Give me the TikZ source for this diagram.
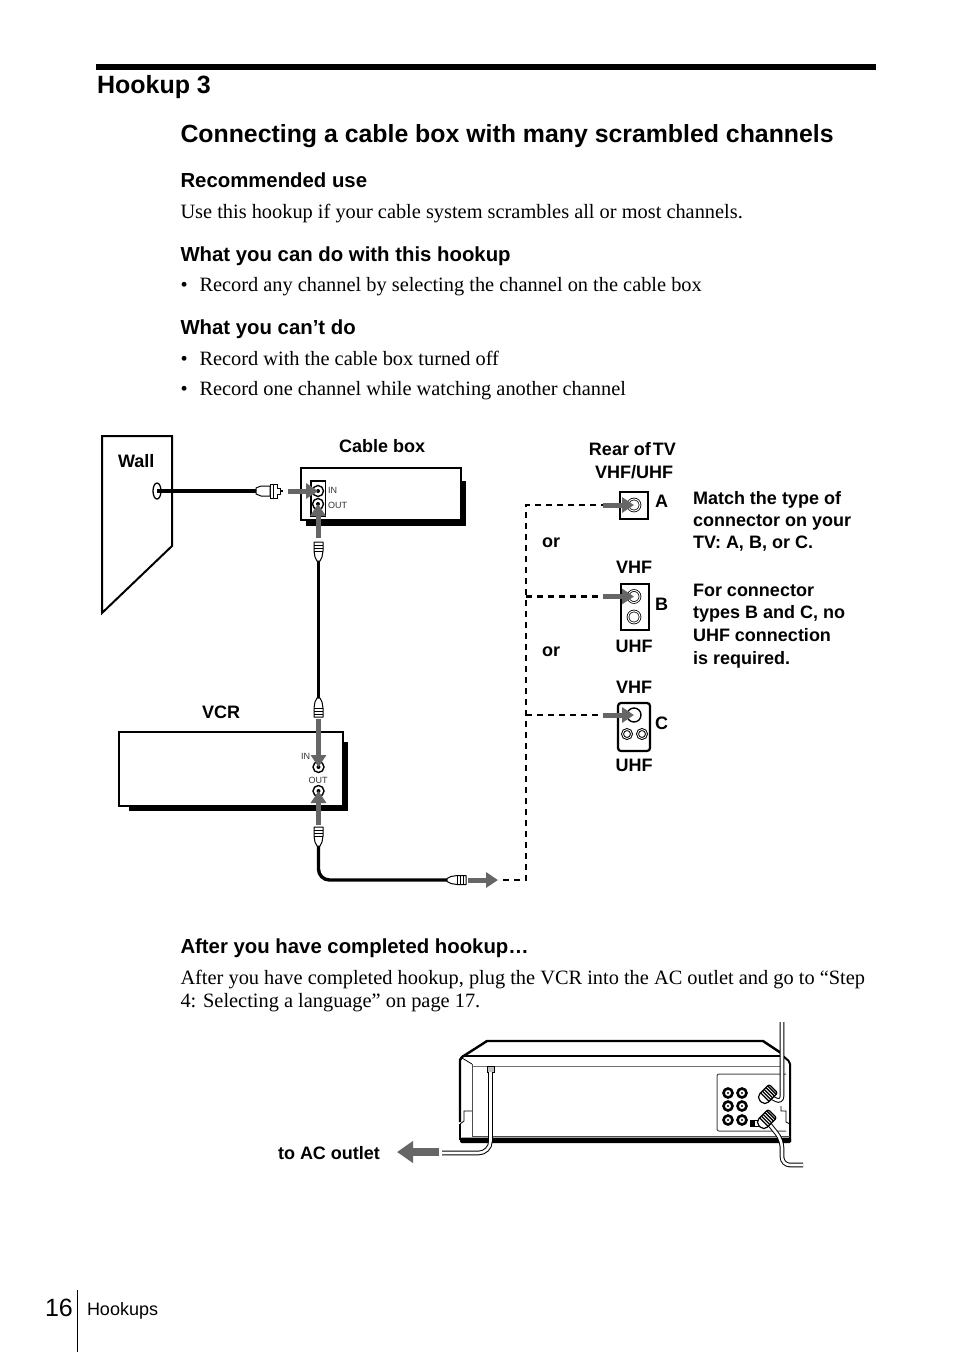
\documentclass[tikz,border=0pt]{standalone}
\usepackage{fontspec}
\setmainfont{Liberation Sans}
\newfontfamily\serifbody{Liberation Serif}
\usetikzlibrary{arrows.meta,shapes.geometric}
\definecolor{arrowgray}{HTML}{666666}
\tikzset{
  every node/.style={inner sep=0pt,outer sep=0pt},
  h1/.style={anchor=base west,font=\fontsize{25}{28}\selectfont\bfseries},
  h2/.style={anchor=base west,font=\fontsize{24.850}{28}\selectfont\bfseries},
  h3/.style={anchor=base west,font=\fontsize{20.350}{24}\selectfont\bfseries},
  body/.style={anchor=base west,font=\fontsize{20.370}{24}\selectfont\serifbody},
  lab/.style={anchor=base west,font=\fontsize{18}{23}\selectfont\bfseries},
  labc/.style={anchor=base,font=\fontsize{18}{23}\selectfont\bfseries},
  tiny/.style={anchor=base west,font=\fontsize{9}{10}\selectfont,text=black!80},
  box/.style={draw=black,line width=2.4pt,fill=white,miter limit=10},
  cable/.style={draw=black,line width=3.4pt},
  dashline/.style={draw=black,line width=2.6pt,dash pattern=on 6pt off 5pt},
  flow/.style={draw=arrowgray,line width=5pt,-{Triangle[length=12pt,width=15pt]}},
  jack/.style={circle,draw=black,line width=1.4pt,fill=white,minimum size=#1},
  jack/.default=11pt,
  plug/.pic={
    \draw[black,line width=1pt,fill=white,line join=round]
      (0,-4.5)--(9,-4.5)--(15,-3.5)--(19,-1.5)--(19,1.5)--(15,3.5)--(9,4.5)--(0,4.5)--cycle;
    \draw[black,line width=1pt] (3,-4.5)--(3,4.5) (6,-4.5)--(6,4.5) (9,-4.5)--(9,4.5);
  },
  fplug/.pic={
    \draw[black,line width=2pt] (0,0)--(3,0);
    \draw[black,line width=1pt,fill=white] (3,-3)--(6,-3)--(6,-7)--(13,-7)--(13,7)--(6,7)--(6,3)--(3,3)--cycle;
    \draw[black,line width=1pt] (9.5,-7)--(9.5,7);
    \draw[black,line width=1pt,fill=white,line join=round]
      (13,-5)--(22,-5)--(27,-3)--(27,3)--(22,5)--(13,5)--cycle;
  },
  rearplug/.pic={
    \draw[black,line width=1.200pt,fill=white,rounded corners=2pt] (-9,-6)--(6,-6)--(9,-3)--(9,3)--(6,6)--(-9,6)--cycle;
    \foreach \k in {-7,-4.500,-2,0.500,3}{\draw[black,line width=1.300pt] (\k,-6)--(\k,6);}
  },
  cord/.style={draw=black,line width=4.6pt,postaction={draw=white,line width=2.6pt}},
  rca/.style={circle,draw=black,line width=2.600pt,fill=white,minimum size=9pt},
}
\begin{document}
\begin{tikzpicture}[x=1pt,y=-1pt]
\useasboundingbox (0,0) rectangle (954,1352);

% page furniture
\fill[black] (96,64) rectangle (876,70);
\fill[black] (76.800,1290) rectangle (78.200,1352);
\node[h1] (title) at (97,93) {Hookup 3};
\node[h2] (sub) at (180.500,142.500) {Connecting a cable box with many scrambled channels};
\node[h3] (rec) at (180.500,187) {Recommended use};
\node[body] (rect) at (180.500,218) {Use this hookup if your cable system scrambles all or most channels.};
\node[h3] (can) at (180.500,261) {What you can do with this hookup};
\node[body] (b1d) at (180.500,291) {•};
\node[body] (b1) at (199.500,291) {Record any channel by selecting the channel on the cable box};
\node[h3] (cant) at (180.500,334) {What you can’t do};
\node[body] (b2d) at (180.500,365) {•};
\node[body] (b2) at (199.500,365) {Record with the cable box turned off};
\node[body] (b3d) at (180.500,395) {•};
\node[body] (b3) at (199.500,395) {Record one channel while watching another channel};
\node[h3] (after) at (180.500,953) {After you have completed hookup…};
\node[body] (a1) at (180.500,984) {After you have completed hookup, plug the VCR into the AC outlet and go to “Step};
\node[body] (a2) at (180.500,1007) {4: Selecting a language” on page 17.};
\node[anchor=base west,font=\fontsize{25}{28}\selectfont] (pg) at (45,1316) {16};
\node[anchor=base west,font=\fontsize{18}{20}\selectfont] (sec) at (87,1315) {Hookups};

% wall
\draw[black,line width=2pt,miter limit=10] (102,436)--(172,436)--(172,546)--(102,613)--cycle;
\node[lab] (wall) at (118,467) {Wall};
\node[ellipse,draw=black,line width=1.3pt,fill=white,minimum width=8pt,minimum height=16pt] (hole) at (157,491) {};

% cable box
\fill[black] (306,481) rectangle (466,526);
\node[box,anchor=north west,minimum width=160pt,minimum height=52pt] (cbox) at (301,468) {};
\node[draw=black,line width=1.200pt,fill=white,anchor=north west,minimum width=14.500pt,minimum height=35pt] (cpanel) at (311,481) {};
\node[jack] (cin) at (318,491) {};
\node[jack] (cout) at (318,504) {};
\fill[black] (cin) circle (2);
\fill[black] (cout) circle (2);
\node[tiny] (cinl) at (328,493) {IN};
\node[tiny] (coutl) at (328,508) {OUT};
\node[lab] (cboxl) at (339,452) {Cable box};

% VCR
\fill[black] (129,742) rectangle (348,811);
\node[box,anchor=north west,minimum width=224pt,minimum height=74pt] (vcr) at (119,732) {};
\node[jack] (vin) at (318.500,767) {};
\node[jack] (vout) at (318.500,791) {};
\fill[black] (vin) circle (2);
\fill[black] (vout) circle (2);
\node[tiny] (vinl) at (301,759) {IN};
\node[tiny] (voutl) at (308.500,783) {OUT};
\node[lab] (vcrl) at (202,718) {VCR};

% cables and plugs
\coordinate (wp) at (283,491);
\coordinate (wpe) at (256,491);
\coordinate (p1) at (318.500,542);
\coordinate (p1e) at (318.500,561);
\coordinate (p2) at (318.500,717);
\coordinate (p2e) at (318.500,698);
\coordinate (p3) at (318.500,827);
\coordinate (p3e) at (318.500,846);
\coordinate (p4) at (466,880);
\coordinate (p4e) at (447,880);
\draw[cable] (hole.center)--(wpe);
\draw[cable] (p1e)--(p2e);
\draw[cable,rounded corners=11pt] (p3e)--(318.500,880)--(p4e);
\pic[rotate=180] at (wp) {fplug};
\pic[rotate=-90] at (p1) {plug};
\pic[rotate=90] at (p2) {plug};
\pic[rotate=-90] at (p3) {plug};
\pic[rotate=180] at (p4) {plug};

% TV connectors
\node[draw=black,line width=1.500pt,fill=white,anchor=north west,minimum width=28pt,minimum height=27pt] (pa) at (620,492) {};
\node[draw=black,line width=1.500pt,fill=white,anchor=north west,minimum width=28pt,minimum height=46pt] (pb) at (621,584) {};
\node[draw=black,line width=2.200pt,fill=white,rounded corners=3pt,anchor=north west,minimum width=32pt,minimum height=48pt] (pc) at (618,703) {};
\node[jack=12pt,double=white,double distance=1pt,line width=.8pt] (ja) at (634,505) {};
\node[jack=12pt,double=white,double distance=1pt,line width=.8pt] (jb) at (634,596.500) {};
\node[jack=12pt,double=white,double distance=1pt,line width=.8pt] (jb2) at (634,617) {};
\node[jack=14pt] (jc) at (634,715) {};
\node[jack=9pt,double=white,double distance=.8pt,line width=1pt] (jc2) at (627,734) {};
\node[jack=9pt,double=white,double distance=.8pt,line width=1pt] (jc3) at (642,734) {};

% dashed route
\coordinate (d0) at (503,880);
\coordinate (dc) at (526,880);
\coordinate (da) at (526,505);
\coordinate (db) at (526,596.500);
\coordinate (dcc) at (526,715);
\coordinate (fa) at (603,505);
\coordinate (fb) at (603,596.500);
\coordinate (fc) at (603,715);
\draw[dashline] (d0)--(dc)--(da)--(fa);
\draw[dashline] (db)--(fb);
\draw[dashline] (dcc)--(fc);

% grey arrows
\coordinate (f1) at (288,491);
\coordinate (f2) at (318,538);
\coordinate (f3) at (318.500,719);
\coordinate (f4) at (318.500,825);
\coordinate (f5) at (468,880);
\coordinate (f5e) at (498,880);
\draw[flow] (f1)--(cin.center);
\draw[flow] (f2)--(cout.center);
\draw[flow] (f3)--(vin.center);
\draw[flow] (f4)--(vout.center);
\draw[flow] (f5)--(f5e);
\draw[flow] (fa)--(ja.center);
\draw[flow] (fb)--(jb.center);
\draw[flow] (fc)--(jc.center);

% TV labels
\node[labc] (rear) at (632.500,455) {Rear of\kern-3pt{} TV};
\node[labc] (vu) at (634,478) {VHF/UHF};
\node[lab] (la) at (655,507) {A};
\node[lab] (lb) at (655,610) {B};
\node[lab] (lc) at (655,729) {C};
\node[lab] (or1) at (542,547) {or};
\node[lab] (or2) at (542,656) {or};
\node[labc] (v1) at (634,573) {VHF};
\node[labc] (u1) at (634,652) {UHF};
\node[labc] (v2) at (634,693) {VHF};
\node[labc] (u2) at (634,771) {UHF};
\node[lab] (n1) at (693,504) {Match the type of};
\node[lab] (n2) at (693,526) {connector on your};
\node[lab] (n3) at (693,548) {TV: A, B, or C.};
\node[lab] (n4) at (693,596) {For connector};
\node[lab] (n5) at (693,618) {types B and C, no};
\node[lab] (n6) at (693,641) {UHF connection};
\node[lab] (n7) at (693,664) {is required.};

% rear of VCR
\fill[white] (460,1057) -- (487,1041) -- (763,1041) -- (790,1062) -- (790,1142) -- (460,1142) -- cycle;
\draw[black,line width=2.400pt,line join=round] (460,1122)--(460,1060)--(462,1057)--(487,1041)--(763,1041)--(781,1053);
\draw[black,line width=1.200pt] (462,1056)--(783,1056);
\draw[black,line width=2pt,rounded corners=2pt] (783,1056)--(790,1062)--(790,1142);
\draw[black!55,line width=1pt] (472,1066)--(782,1066);
\draw[black!70,line width=1pt] (472,1064)--(472,1136)--(790,1136);
\draw[black,line width=.8pt] (462,1058)--(472,1064);
\draw[black,line width=.8pt] (472,1111)--(464,1111)--(464,1121)--(460,1124);
\draw[black,line width=1.500pt] (460,1124)--(460,1140);
\fill[black,rounded corners=1.500pt] (460,1137.500) rectangle (791,1143);
\draw[black!70,line width=1pt,fill=white,rounded corners=2pt] (786,1074)--(717,1074)--(717,1131)--(786,1131);
\foreach \c/\x/\y in {a/728/1093,b/742/1093,c/728/1106,d/742/1106,e/728/1120,f/742/1120}{
  \node[rca] (r\c) at (\x,\y) {};
  \fill[black] (r\c) circle (1.200);
}
\node[draw=black,line width=1pt,minimum width=9pt,minimum height=6pt,path picture={\fill[black] (path picture bounding box.south west) rectangle (path picture bounding box.north);}] (sw) at (754.500,1123) {};
\draw[black,line width=.8pt] (781,1106)--(781,1111)--(786,1111)--(786,1122)--(790,1124);
\coordinate (ra) at (767,1095);
\coordinate (rb) at (766,1120);
\coordinate (ant) at (782,1022);
\coordinate (outc) at (803,1165);
\draw[cord,rounded corners=7pt] (ant)--(782,1103)--(ra);
\draw[cord,rounded corners=8pt] (rb)--(782,1140)--(782,1165)--(outc);
\pic[rotate=-135] at (ra) {rearplug};
\pic[rotate=-135] at (rb) {rearplug};
\node[draw=black,line width=1pt,fill=black!25,minimum width=7pt,minimum height=6pt] (pp) at (490.500,1069) {};
\coordinate (acend) at (442,1153);
\draw[cord,rounded corners=12pt] (pp.south)--(490.500,1153)--(acend);
\coordinate (acs) at (439,1152);
\coordinate (act) at (397,1152);
\draw[draw=arrowgray,line width=8pt,-{Triangle[length=16pt,width=21pt]}] (acs)--(act);
\node[anchor=base east,font=\fontsize{18}{23}\selectfont\bfseries] (acl) at (380,1159) {to AC outlet};
\end{tikzpicture}
\end{document}
